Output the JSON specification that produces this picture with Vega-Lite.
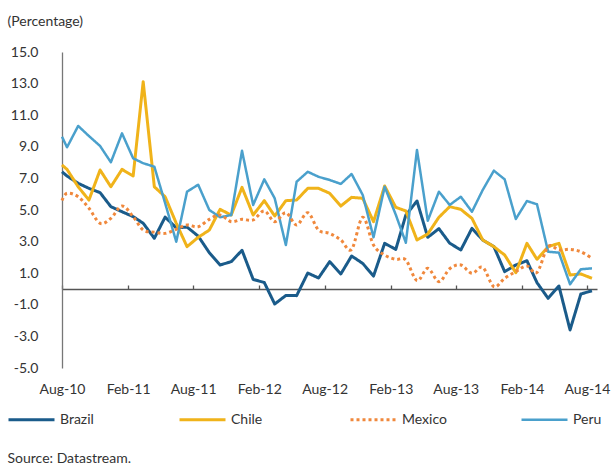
{
  "$schema": "https://vega.github.io/schema/vega-lite/v6.json",
  "width": 535,
  "height": 316,
  "autosize": {"type": "none"},
  "padding": {"left": 62, "top": 52, "right": 16, "bottom": 97},
  "background": "white",
  "config": {"view": {"stroke": null}, "font": "Lato"},
  "data": {"values": [
    {"date": "2010-08-01", "Brazil": 7.42, "Chile": 7.85, "Mexico": 5.6, "Peru": 9.64},
    {"date": "2010-08-15", "Brazil": 7.15, "Chile": 7.57, "Mexico": 6.06, "Peru": 8.97},
    {"date": "2010-09-15", "Brazil": 6.69, "Chile": 6.47, "Mexico": 5.84, "Peru": 10.32},
    {"date": "2010-10-15", "Brazil": 6.37, "Chile": 5.63, "Mexico": 5.11, "Peru": 9.68},
    {"date": "2010-11-15", "Brazil": 6.10, "Chile": 7.53, "Mexico": 4.16, "Peru": 9.05},
    {"date": "2010-12-15", "Brazil": 5.21, "Chile": 6.47, "Mexico": 4.47, "Peru": 8.02},
    {"date": "2011-01-15", "Brazil": 4.89, "Chile": 7.57, "Mexico": 5.25, "Peru": 9.85},
    {"date": "2011-02-15", "Brazil": 4.58, "Chile": 7.15, "Mexico": 4.58, "Peru": 8.27},
    {"date": "2011-03-15", "Brazil": 4.16, "Chile": 13.12, "Mexico": 3.73, "Peru": 7.96},
    {"date": "2011-04-15", "Brazil": 3.21, "Chile": 6.47, "Mexico": 3.6, "Peru": 7.74},
    {"date": "2011-05-15", "Brazil": 4.55, "Chile": 5.84, "Mexico": 3.52, "Peru": 5.44},
    {"date": "2011-06-15", "Brazil": 3.87, "Chile": 4.16, "Mexico": 3.78, "Peru": 2.99},
    {"date": "2011-07-15", "Brazil": 3.92, "Chile": 2.68, "Mexico": 4.05, "Peru": 6.16},
    {"date": "2011-08-15", "Brazil": 3.35, "Chile": 3.27, "Mexico": 3.94, "Peru": 6.6},
    {"date": "2011-09-15", "Brazil": 2.3, "Chile": 3.73, "Mexico": 4.41, "Peru": 5.0},
    {"date": "2011-10-15", "Brazil": 1.52, "Chile": 5.04, "Mexico": 4.68, "Peru": 4.54},
    {"date": "2011-11-15", "Brazil": 1.73, "Chile": 4.68, "Mexico": 4.26, "Peru": 4.68},
    {"date": "2011-12-15", "Brazil": 2.45, "Chile": 6.43, "Mexico": 4.41, "Peru": 8.75},
    {"date": "2012-01-15", "Brazil": 0.61, "Chile": 4.68, "Mexico": 4.37, "Peru": 5.32},
    {"date": "2012-02-15", "Brazil": 0.41, "Chile": 5.59, "Mexico": 4.94, "Peru": 6.94},
    {"date": "2012-03-15", "Brazil": -0.95, "Chile": 4.62, "Mexico": 4.26, "Peru": 5.74},
    {"date": "2012-04-15", "Brazil": -0.41, "Chile": 5.59, "Mexico": 4.83, "Peru": 2.78},
    {"date": "2012-05-15", "Brazil": -0.42, "Chile": 5.63, "Mexico": 4.05, "Peru": 6.79},
    {"date": "2012-06-15", "Brazil": 1.01, "Chile": 6.37, "Mexico": 4.83, "Peru": 7.42},
    {"date": "2012-07-15", "Brazil": 0.70, "Chile": 6.37, "Mexico": 3.73, "Peru": 7.10},
    {"date": "2012-08-15", "Brazil": 1.73, "Chile": 6.06, "Mexico": 3.52, "Peru": 6.90},
    {"date": "2012-09-15", "Brazil": 0.95, "Chile": 5.25, "Mexico": 3.10, "Peru": 6.65},
    {"date": "2012-10-15", "Brazil": 2.09, "Chile": 5.80, "Mexico": 2.51, "Peru": 7.28},
    {"date": "2012-11-15", "Brazil": 1.62, "Chile": 5.74, "Mexico": 4.54, "Peru": 5.95},
    {"date": "2012-12-15", "Brazil": 0.82, "Chile": 4.26, "Mexico": 2.78, "Peru": 3.27},
    {"date": "2013-01-15", "Brazil": 2.89, "Chile": 6.52, "Mexico": 2.15, "Peru": 6.47},
    {"date": "2013-02-15", "Brazil": 2.51, "Chile": 5.17, "Mexico": 1.88, "Peru": 4.7},
    {"date": "2013-03-15", "Brazil": 4.68, "Chile": 4.94, "Mexico": 1.84, "Peru": 2.93},
    {"date": "2013-04-15", "Brazil": 5.57, "Chile": 3.10, "Mexico": 0.53, "Peru": 8.80},
    {"date": "2013-05-15", "Brazil": 3.27, "Chile": 3.48, "Mexico": 1.31, "Peru": 4.32},
    {"date": "2013-06-15", "Brazil": 3.82, "Chile": 4.54, "Mexico": 0.46, "Peru": 6.16},
    {"date": "2013-07-15", "Brazil": 2.9, "Chile": 5.21, "Mexico": 1.28, "Peru": 5.32},
    {"date": "2013-08-15", "Brazil": 2.47, "Chile": 5.04, "Mexico": 1.52, "Peru": 5.84},
    {"date": "2013-09-15", "Brazil": 3.84, "Chile": 4.47, "Mexico": 0.99, "Peru": 4.89},
    {"date": "2013-10-15", "Brazil": 3.10, "Chile": 3.10, "Mexico": 1.37, "Peru": 6.27},
    {"date": "2013-11-15", "Brazil": 2.68, "Chile": 2.68, "Mexico": 0.15, "Peru": 7.49},
    {"date": "2013-12-15", "Brazil": 1.10, "Chile": 2.15, "Mexico": 0.68, "Peru": 6.94},
    {"date": "2014-01-15", "Brazil": 1.52, "Chile": 1.03, "Mexico": 1.10, "Peru": 4.43},
    {"date": "2014-02-15", "Brazil": 1.79, "Chile": 2.89, "Mexico": 1.46, "Peru": 5.57},
    {"date": "2014-03-15", "Brazil": 0.40, "Chile": 1.88, "Mexico": 1.05, "Peru": 5.36},
    {"date": "2014-04-15", "Brazil": -0.59, "Chile": 2.68, "Mexico": 2.68, "Peru": 2.36},
    {"date": "2014-05-15", "Brazil": 0.19, "Chile": 2.89, "Mexico": 2.47, "Peru": 2.30},
    {"date": "2014-06-15", "Brazil": -2.59, "Chile": 0.89, "Mexico": 2.51, "Peru": 0.30},
    {"date": "2014-07-15", "Brazil": -0.32, "Chile": 0.95, "Mexico": 2.36, "Peru": 1.25},
    {"date": "2014-08-15", "Brazil": -0.11, "Chile": 0.68, "Mexico": 1.94, "Peru": 1.31}
  ]},
  "transform": [{"fold": ["Brazil", "Chile", "Mexico", "Peru"], "as": ["country", "value"]}],
  "encoding": {
    "x": {
      "field": "date", "type": "temporal",
      "scale": {"type": "utc", "domain": [{"year": 2010, "month": 8, "date": 1, "utc": true}, {"year": 2014, "month": 8, "date": 29, "utc": true}]},
      "axis": {
        "values": [
          {"year": 2010, "month": 8, "date": 1, "utc": true},
          {"year": 2011, "month": 2, "date": 1, "utc": true},
          {"year": 2011, "month": 8, "date": 1, "utc": true},
          {"year": 2012, "month": 2, "date": 1, "utc": true},
          {"year": 2012, "month": 8, "date": 1, "utc": true},
          {"year": 2013, "month": 2, "date": 1, "utc": true},
          {"year": 2013, "month": 8, "date": 1, "utc": true},
          {"year": 2014, "month": 2, "date": 1, "utc": true},
          {"year": 2014, "month": 8, "date": 1, "utc": true}
        ],
        "labelExpr": "utcFormat(datum.value, '%b-%y')",
        "offset": -79, "tickSize": -4, "labelPadding": 104, "labelBaseline": "middle",
        "labelFlush": false, "labelOverlap": false, "labelBound": false,
        "labelFontSize": 14, "labelColor": "#333333", "labelFont": "Lato",
        "domainColor": "#555555", "domainWidth": 1.3, "tickColor": "#555555", "tickWidth": 1.3,
        "grid": false,
        "title": "Source: Datastream.", "titleX": -55, "titleY": 169, "titleAlign": "left",
        "titleBaseline": "middle", "titleFontSize": 14, "titleFontWeight": "normal",
        "titleColor": "#333333", "titleFont": "Lato"
      }
    },
    "y": {
      "field": "value", "type": "quantitative",
      "scale": {"domain": [-5, 15], "nice": false, "zero": false},
      "axis": {
        "values": [-5, -3, -1, 1, 3, 5, 7, 9, 11, 13, 15],
        "labelExpr": "(datum.value < 0 ? '-' : '') + format(abs(datum.value), '.1f')",
        "ticks": false, "labelPadding": 24, "labelFontSize": 14, "labelColor": "#333333", "labelFont": "Lato",
        "domainColor": "#777777", "domainWidth": 1.3, "grid": false,
        "title": "(Percentage)", "titleAngle": 0, "titleX": -55, "titleY": -31,
        "titleAlign": "left", "titleBaseline": "middle", "titleFontSize": 14,
        "titleFontWeight": "normal", "titleColor": "#333333", "titleFont": "Lato"
      }
    },
    "color": {
      "field": "country", "type": "nominal",
      "scale": {"domain": ["Brazil", "Chile", "Mexico", "Peru"], "range": ["#1a5b8a", "#f0b31a", "#f0883c", "#4aa0cc"]},
      "legend": {
        "orient": "none", "legendX": -55, "legendY": 343, "direction": "horizontal",
        "columns": 4, "gridAlign": "all", "columnPadding": 68, "title": null,
        "symbolType": "stroke", "symbolSize": 2116, "labelFontSize": 14,
        "labelColor": "#333333", "labelOffset": 4, "labelFont": "Lato"
      }
    },
    "strokeDash": {
      "field": "country", "type": "nominal",
      "scale": {"domain": ["Brazil", "Chile", "Mexico", "Peru"], "range": [[1, 0], [1, 0], [3, 3], [1, 0]]}
    },
    "strokeWidth": {
      "field": "country", "type": "nominal",
      "scale": {"type": "ordinal", "domain": ["Brazil", "Chile", "Mexico", "Peru"], "range": [3, 3, 3, 2.5]}
    }
  },
  "layer": [
    {"transform": [{"filter": "datum.country !== 'Mexico'"}], "mark": {"type": "line", "strokeJoin": "round"}},
    {"transform": [{"filter": "datum.country === 'Mexico'"}], "mark": {"type": "line", "interpolate": "cardinal"}}
  ]
}
